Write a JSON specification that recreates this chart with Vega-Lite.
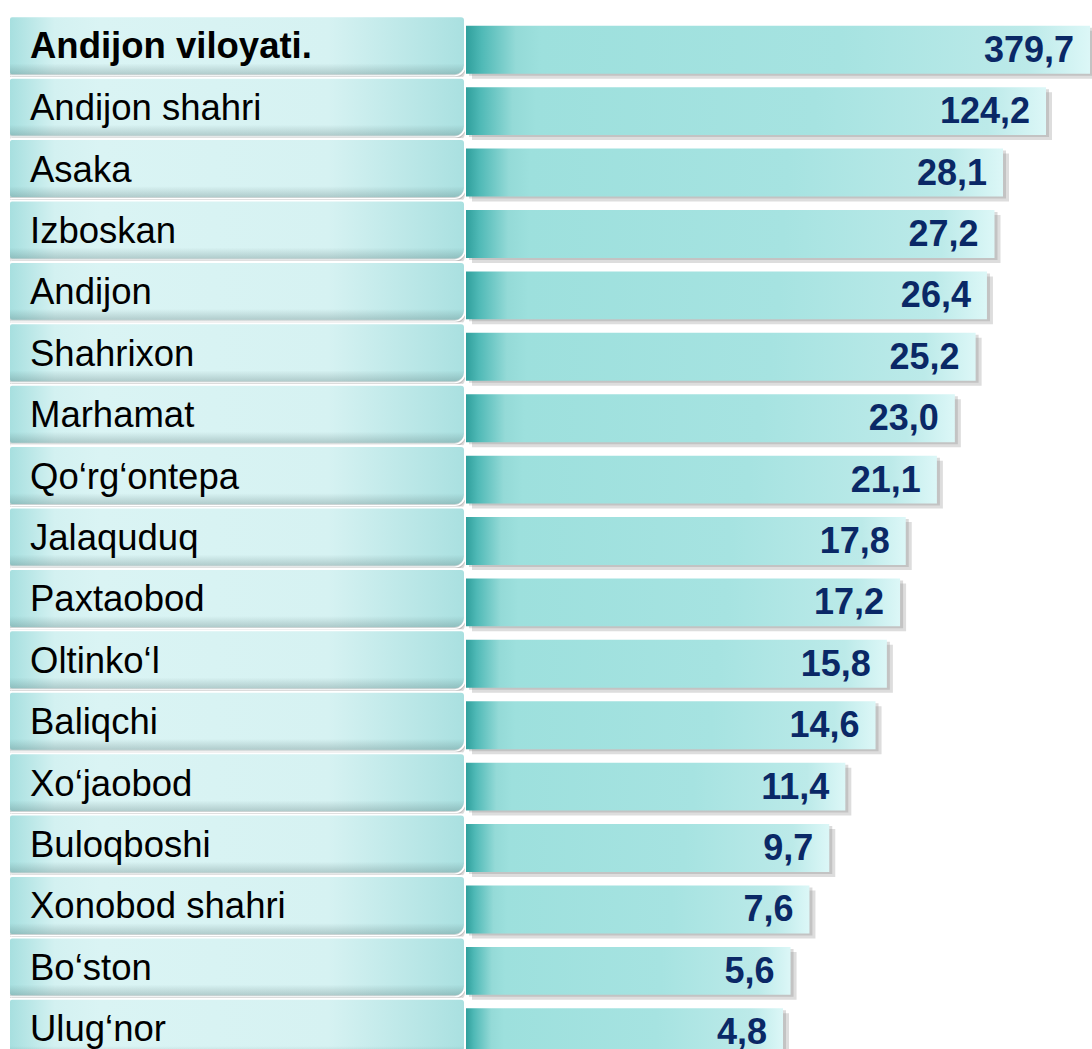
{
  "$schema": "https://vega.github.io/schema/vega-lite/v6.json",
  "padding": {"left": 8, "top": 15, "right": 0, "bottom": 0},
  "background": "white",
  "config": {
    "view": {"stroke": null},
    "concat": {"spacing": 0},
    "locale": {"number": {"decimal": ",", "thousands": " ", "grouping": [3], "currency": ["", ""]}},
    "text": {"font": "Liberation Sans"}
  },
  "data": {
    "values": [
      {"name": "Andijon viloyati.", "value": 379.7},
      {"name": "Andijon shahri", "value": 124.2},
      {"name": "Asaka", "value": 28.1},
      {"name": "Izboskan", "value": 27.2},
      {"name": "Andijon", "value": 26.4},
      {"name": "Shahrixon", "value": 25.2},
      {"name": "Marhamat", "value": 23.0},
      {"name": "Qo‘rg‘ontepa", "value": 21.1},
      {"name": "Jalaquduq", "value": 17.8},
      {"name": "Paxtaobod", "value": 17.2},
      {"name": "Oltinko‘l", "value": 15.8},
      {"name": "Baliqchi", "value": 14.6},
      {"name": "Xo‘jaobod", "value": 11.4},
      {"name": "Buloqboshi", "value": 9.7},
      {"name": "Xonobod shahri", "value": 7.6},
      {"name": "Bo‘ston", "value": 5.6},
      {"name": "Ulug‘nor", "value": 4.8}
    ]
  },
  "hconcat": [
    {
      "width": 456,
      "height": 1044,
      "encoding": {
        "y": {"field": "name", "type": "nominal", "sort": null, "axis": null,
              "scale": {"paddingInner": 0.04, "paddingOuter": 0.02}}
      },
      "layer": [
        {
          "mark": {"type": "bar", "fill": "#7a7a7a", "opacity": 0.28, "yOffset": 6, "xOffset": 3,
                   "cornerRadiusBottomRight": 10},
          "encoding": {"x": {"value": 0}, "x2": {"value": "width"}}
        },
        {
          "mark": {"type": "bar", "fill": "#8a8a8a", "opacity": 0.32, "yOffset": 3, "xOffset": 1,
                   "cornerRadiusBottomRight": 10},
          "encoding": {"x": {"value": 0}, "x2": {"value": "width"}}
        },
        {
          "mark": {"type": "bar", "stroke": "white", "strokeWidth": 2,
                   "cornerRadiusTopLeft": 3, "cornerRadiusTopRight": 4, "cornerRadiusBottomLeft": 3, "cornerRadiusBottomRight": 10,
                   "fill": {"gradient": "linear", "x1": 0, "y1": 0, "x2": 1, "y2": 0,
                            "stops": [
                              {"offset": 0, "color": "#a6dfdf"},
                              {"offset": 0.1, "color": "#d3f1f1"},
                              {"offset": 0.2, "color": "#daf4f4"},
                              {"offset": 0.7, "color": "#d6f2f2"},
                              {"offset": 1, "color": "#a9e0e0"}
                            ]}},
          "encoding": {"x": {"value": 0}, "x2": {"value": "width"}}
        },
        {
          "mark": {"type": "bar",
                   "cornerRadiusBottomRight": 10,
                   "fill": {"gradient": "linear", "x1": 0, "y1": 0, "x2": 0, "y2": 1,
                            "stops": [
                              {"offset": 0, "color": "rgba(60,90,90,0)"},
                              {"offset": 0.8, "color": "rgba(60,90,90,0)"},
                              {"offset": 1, "color": "rgba(60,90,90,0.28)"}
                            ]}},
          "encoding": {"x": {"value": 1}, "x2": {"value": 455}}
        },
        {
          "transform": [{"filter": "datum.name !== 'Andijon viloyati.'"}],
          "mark": {"type": "text", "align": "left", "baseline": "middle", "dx": 21, "dy": 2,
                   "fontSize": 36.5, "color": "black"},
          "encoding": {"x": {"value": 0}, "text": {"field": "name"}}
        },
        {
          "transform": [{"filter": "datum.name === 'Andijon viloyati.'"}],
          "mark": {"type": "text", "align": "left", "baseline": "middle", "dx": 21, "dy": 1,
                   "fontSize": 36.5, "fontWeight": "bold", "color": "black"},
          "encoding": {"x": {"value": 0}, "text": {"field": "name"}}
        }
      ]
    },
    {
      "width": 628,
      "height": 1044,
      "encoding": {
        "y": {"field": "name", "type": "nominal", "sort": null, "axis": null,
              "scale": {"paddingInner": 0, "paddingOuter": 0}},
        "x": {"field": "value", "type": "quantitative", "axis": null,
              "scale": {"domain": [0, 4.8, 28.1, 124.2, 379.7], "range": [0, 317, 537, 580, 624]}}
      },
      "layer": [
        {
          "mark": {"type": "bar", "fill": "#777777", "opacity": 0.25, "yOffset": 9, "xOffset": 6,
                   "height": {"band": 0.78}},
          "encoding": {}
        },
        {
          "mark": {"type": "bar", "fill": "#888888", "opacity": 0.3, "yOffset": 6, "xOffset": 3,
                   "height": {"band": 0.78}},
          "encoding": {}
        },
        {
          "mark": {"type": "bar", "yOffset": 4, "height": {"band": 0.78},
                   "fill": {"gradient": "linear", "x1": 0, "y1": 0, "x2": 1, "y2": 0,
                            "stops": [
                              {"offset": 0, "color": "#2f9f9c"},
                              {"offset": 0.025, "color": "#4fb9b6"},
                              {"offset": 0.08, "color": "#94dad7"},
                              {"offset": 0.12, "color": "#9de0dd"},
                              {"offset": 0.6, "color": "#a6e3e1"},
                              {"offset": 0.9, "color": "#bceae9"},
                              {"offset": 1, "color": "#dcf7f7"}
                            ]}},
          "encoding": {}
        },
        {
          "mark": {"type": "text", "align": "right", "baseline": "middle", "dx": -16, "dy": 5,
                   "fontSize": 36, "fontWeight": "bold", "color": "#0a2866"},
          "encoding": {"text": {"field": "value", "type": "quantitative", "format": ".1f"}}
        }
      ]
    }
  ]
}
